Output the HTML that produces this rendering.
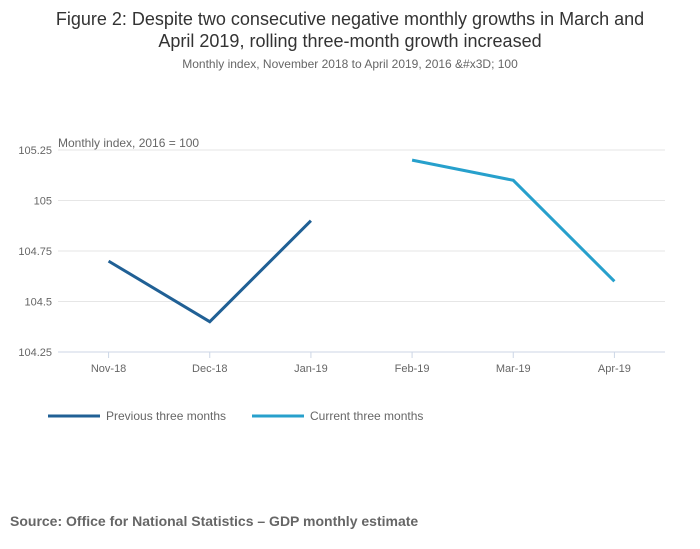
<!DOCTYPE html>
<html><head><meta charset="utf-8"><style>
body{margin:0;background:#fff;font-family:"Liberation Sans",sans-serif;}
#wrap{position:relative;width:700px;height:549px;overflow:hidden}
.t{position:absolute;left:0;width:700px;text-align:center;color:#333}
</style></head><body>
<div id="wrap">
<div class="t" style="top:8px;font-size:18px;line-height:22px">Figure 2: Despite two consecutive negative monthly growths in March and<br>April 2019, rolling three-month growth increased</div>
<div class="t" style="top:57px;font-size:12px;color:#666">Monthly index, November 2018 to April 2019, 2016 &amp;#x3D; 100</div>
<svg id="chart" width="700" height="549" style="position:absolute;left:0;top:0"></svg>
<div style="position:absolute;left:10px;top:513px;font-size:14px;font-weight:bold;color:#666">Source: Office for National Statistics – GDP monthly estimate</div>
</div>
<script>
const categories=["Nov-18","Dec-18","Jan-19","Feb-19","Mar-19","Apr-19"];
const prevValues=[104.7,104.4,104.9,null,null,null];
const currValues=[null,null,null,105.2,105.1,104.6];
const yTicks=[104.25,104.5,104.75,105,105.25];
const yTickLabels=["104.25","104.5","104.75","105","105.25"];
const NS="http://www.w3.org/2000/svg";
const svg=document.getElementById('chart');
const x0=58,x1=665,yTop=150,yBot=352,yMin=104.25,yMax=105.25;
const bw=(x1-x0)/categories.length;
const xs=i=>x0+bw*(i+0.5);
const ys=v=>yBot-(v-yMin)/(yMax-yMin)*(yBot-yTop);
function mk(tag,attrs,parent){const e=document.createElementNS(NS,tag);for(const k in attrs)e.setAttribute(k,attrs[k]);(parent||svg).appendChild(e);return e;}
yTicks.forEach((v,i)=>{
 const g=mk('line',{x1:x0,x2:x1,y1:ys(v),y2:ys(v),stroke:i===0?'#ccd6e6':'#e6e6e6','stroke-width':1});
 
 
 const t=mk('text',{x:52,y:ys(v)+4,'text-anchor':'end','font-size':11,fill:'#666','font-family':'Liberation Sans, sans-serif'});
 t.textContent=yTickLabels[i];
 
 
});
const yt=mk('text',{x:58,y:147,'font-size':12,fill:'#666','font-family':'Liberation Sans, sans-serif'});
yt.textContent="Monthly index, 2016 = 100";


categories.forEach((c,i)=>{
 const tk=mk('line',{x1:xs(i),x2:xs(i),y1:yBot,y2:yBot+6,stroke:'#ccd6e6'});
 
 
 const t=mk('text',{x:xs(i),y:yBot+20,'text-anchor':'middle','font-size':11,fill:'#666','font-family':'Liberation Sans, sans-serif'});
 t.textContent=c;
 
 
});
function series(vals,color,name){
 const pts=[];vals.forEach((v,i)=>{if(v!==null)pts.push(xs(i)+','+ys(v));});
 const p=mk('polyline',{points:pts.join(' '),fill:'none',stroke:color,'stroke-width':3,'stroke-linejoin':'miter'});
 
 
}
series(prevValues,'#206095','line-previous-three-months');
series(currValues,'#27a0cc','line-current-three-months');
function legend(x,color,label,name){
 const l=mk('line',{x1:x,x2:x+52,y1:416,y2:416,stroke:color,'stroke-width':3});
 
 
 const t=mk('text',{x:x+58,y:420,'font-size':12,fill:'#666','font-family':'Liberation Sans, sans-serif'});
 t.textContent=label;
 
 
}
legend(48,'#206095','Previous three months','legend-previous');
legend(252,'#27a0cc','Current three months','legend-current');
</script>
</body></html>
